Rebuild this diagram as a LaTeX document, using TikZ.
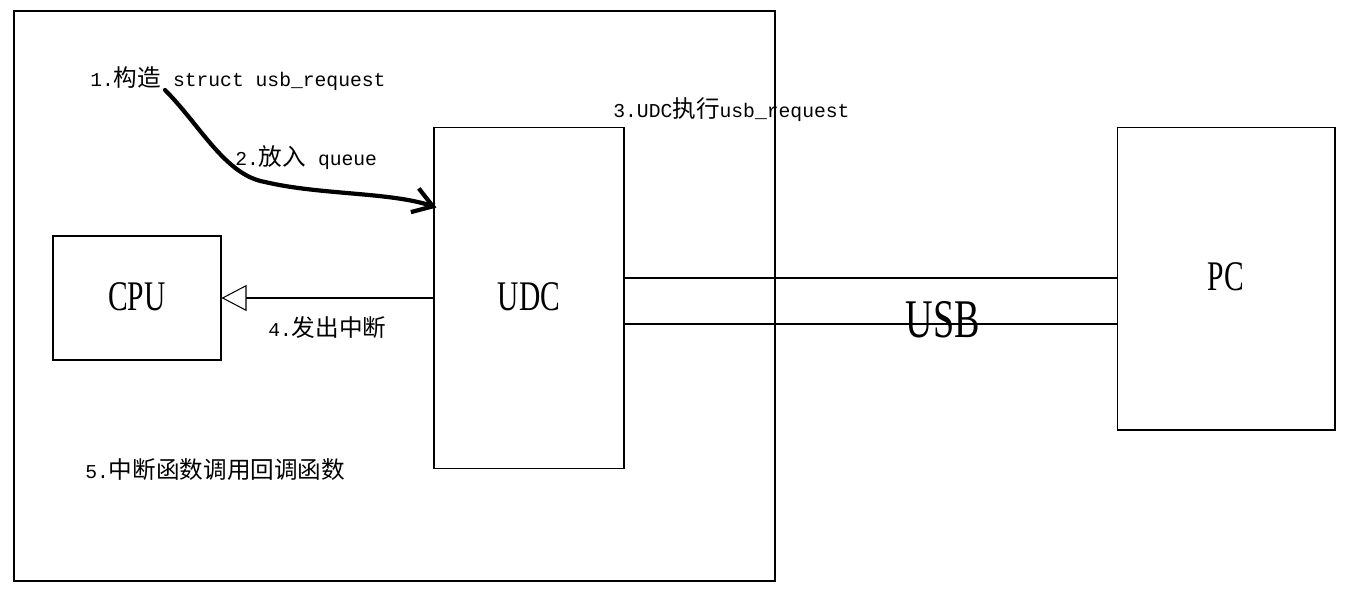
\documentclass[tikz,border=0pt]{standalone}
\usepackage{fontspec}
\setmainfont{Liberation Mono}
\newfontfamily\cjk{Noto Sans CJK SC}[Scale=1.2]
\newfontfamily\bigfont{Liberation Serif}[FakeStretch=0.7]
\usetikzlibrary{arrows.meta,calc}

\tikzset{
  box/.style={draw, line width=0.6pt, inner sep=0pt},
  note/.style={anchor=west, inner sep=0pt, font=\fontsize{11.2}{13}\selectfont},
  big/.style={inner sep=0pt, font=\bigfont\fontsize{24}{26}\selectfont},
  irq/.style={line width=0.6pt, -{Triangle[open, length=0.5cm, width=0.52cm]}},
  hand/.style={line width=2.4pt, line cap=round, -{Straight Barb[length=0.38cm, width=0.5cm, line width=2.4pt]}}
}

\begin{document}
\begin{tikzpicture}[x=0.02cm, y=-0.02cm]
    \useasboundingbox (0,0) rectangle (1369,605);

    % Host side
    \draw[line width=0.6pt] (14,11) rectangle (775,581);

    % Blocks
    \node[box, minimum width=3.36cm, minimum height=2.48cm] (cpu) at (137,298) {};
    \node[box, minimum width=3.8cm, minimum height=6.84cm] (udc) at (529,298) {};
    \node[box, minimum width=4.36cm, minimum height=6.06cm] (pc) at (1226,278.5) {};
    \node[big] (cpulbl) at (137,297) {CPU};
    \node[big] (udclbl) at (529,297) {UDC};
    \node[big] (pclbl) at (1226,277) {PC};

    % Bus
    \draw[line width=0.6pt] (udc.east |- 0,278) -- (pc.west |- 0,278);
    \draw[line width=0.6pt] (udc.east |- 0,324) -- (pc.west |- 0,324);
    \node[big, font=\bigfont\fontsize{31}{33}\selectfont] (usb) at (943,320) {USB};

    % Steps
    \node[note] (s1) at (90,79) {1.{\cjk 构造} struct usb\_request};
    \node[note] (s2) at (235,158) {2.{\cjk 放入} queue};
    \node[note] (s3) at (613,110) {3.UDC{\cjk 执行}usb\_request};
    \node[note] (s4) at (268,328) {4.{\cjk 发出中断}};
    \node[note] (s5) at (85,470) {5.{\cjk 中断函数调用回调函数}};

    % Request goes into the queue
    \coordinate (qin) at ($(udc.north west)+(3,81)$);
    \draw[hand] (165,90) .. controls (200,125) and (225,175) .. (265,182)
        .. controls (320,195) and (390,192) .. (qin);

    % Interrupt
    \draw[irq] (udc.west |- cpu.east) -- (cpu.east);
\end{tikzpicture}
\end{document}
